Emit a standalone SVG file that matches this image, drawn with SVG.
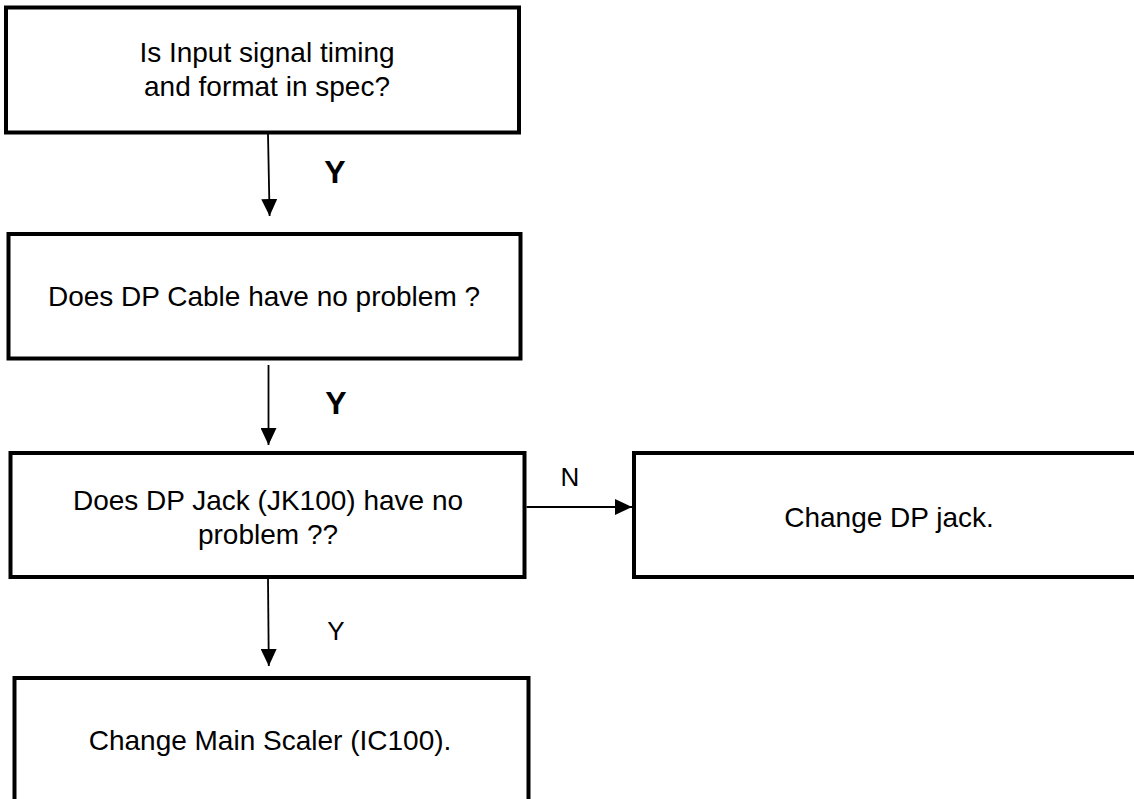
<svg xmlns="http://www.w3.org/2000/svg" width="1134" height="799" viewBox="0 0 1134 799">
<style>
.box{fill:#fff;stroke:#000;stroke-width:4}
.t{font-family:"Liberation Sans",Arial,sans-serif;font-size:28px;fill:#000;text-anchor:middle}
.lbl{font-family:"Liberation Sans",Arial,sans-serif;font-size:26px;fill:#000;text-anchor:middle}
.lblb{font-family:"Liberation Sans",Arial,sans-serif;font-size:32px;font-weight:bold;fill:#000;text-anchor:middle}
.c{stroke:#000;stroke-width:1.8;fill:none;marker-end:url(#ah)}
</style>
<defs>
<marker id="ah" markerUnits="userSpaceOnUse" markerWidth="17" markerHeight="16" refX="17" refY="8" orient="auto">
<path d="M0,0 L17,8 L0,16 Z" fill="#000"/>
</marker>
</defs>
<rect width="1134" height="799" fill="#fff"/>
<g id="n1">
<rect class="box" x="6" y="7.5" width="513" height="125"/>
<text class="t" x="267" y="62">Is Input signal timing</text>
<text class="t" x="267" y="96">and format in spec?</text>
</g>
<g id="n2">
<rect class="box" x="8.5" y="234" width="512" height="124.5"/>
<text class="t" x="264" y="306">Does DP Cable have no problem ?</text>
</g>
<g id="n3">
<rect class="box" x="10.5" y="453" width="514" height="124"/>
<text class="t" x="268" y="510">Does DP Jack (JK100) have no</text>
<text class="t" x="268" y="544">problem ??</text>
</g>
<g id="n4">
<rect class="box" x="634" y="453" width="512" height="124"/>
<text class="t" x="889" y="527">Change DP jack.</text>
</g>
<g id="n5">
<rect class="box" x="14.5" y="678" width="514" height="140"/>
<text class="t" x="270" y="750">Change Main Scaler (IC100).</text>
</g>
<g id="connectors">
<path class="c" d="M268,134 L269.6,216"/>
<text class="lblb" x="335" y="183">Y</text>
<path class="c" d="M268.5,365 L268.5,445"/>
<text class="lblb" x="336" y="414">Y</text>
<path class="c" d="M526.5,507 L632,507"/>
<text class="lbl" x="570" y="486">N</text>
<path class="c" d="M268,579 L268.8,666"/>
<text class="lbl" x="336" y="640">Y</text>
</g>
</svg>
